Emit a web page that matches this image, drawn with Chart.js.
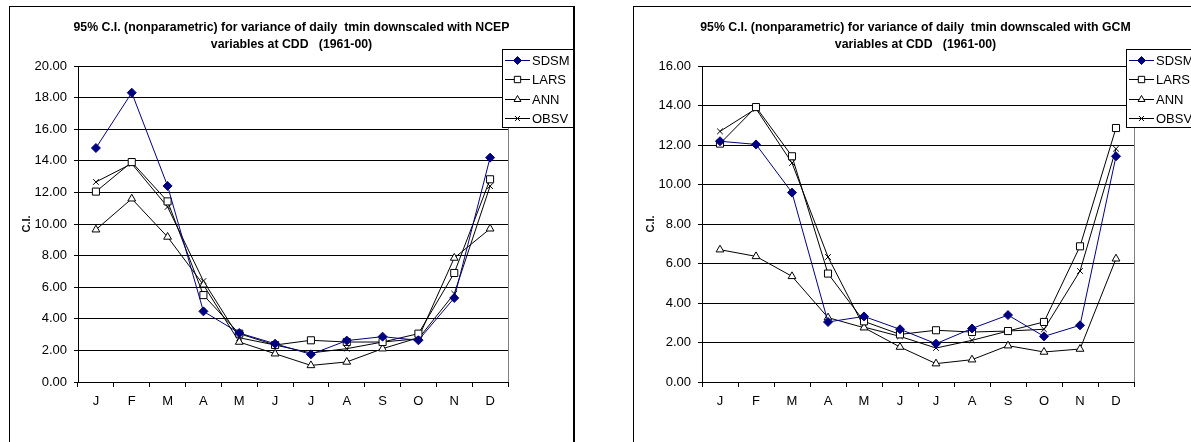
<!DOCTYPE html>
<html>
<head>
<meta charset="utf-8">
<script src="https://cdn.jsdelivr.net/npm/chart.js@4/dist/chart.umd.min.js"></script>
<style>
    html, body { margin: 0; padding: 0; background: #fff; overflow: hidden; }
    .chart-card {
        position: absolute;
        top: 6px;
        width: 563px;
        height: 440px;
        border: 1px solid #000;
        border-right-width: 2px;
        background: #fff;
    }
    #card-ncep { left: 9px; }
    #card-gcm { left: 633px; }
    canvas { display: block; }
</style>
</head>
<body>
<div class="chart-card" id="card-ncep"><canvas id="ncep-chart" width="563" height="436"></canvas></div>
<div class="chart-card" id="card-gcm"><canvas id="gcm-chart" width="563" height="436"></canvas></div>

<script>
// month labels on the category axis
const months = ['J', 'F', 'M', 'A', 'M', 'J', 'J', 'A', 'S', 'O', 'N', 'D'];

// NCEP-driven downscaling, 95% C.I. of daily tmin variance
const ncepSdsm = [14.81, 18.31, 12.41, 4.47, 3.10, 2.42, 1.75, 2.62, 2.87, 2.64, 5.32, 14.20];
const ncepLars = [12.05, 13.92, 11.43, 5.50, 3.06, 2.34, 2.64, 2.53, 2.53, 3.06, 6.90, 12.83];
const ncepAnn  = [9.64, 11.60, 9.18, 6.15, 2.53, 1.79, 1.05, 1.27, 2.11, 2.80, 7.85, 9.70];
const ncepObsv = [12.66, 13.82, 11.08, 6.39, 2.80, 2.34, 1.84, 2.11, 2.53, 2.74, 5.59, 12.40];

// GCM-driven downscaling
const gcmSdsm = [12.19, 12.03, 9.59, 3.04, 3.32, 2.67, 1.94, 2.71, 3.39, 2.31, 2.87, 11.43];
const gcmLars = [12.07, 13.92, 11.43, 5.49, 3.07, 2.41, 2.62, 2.53, 2.58, 3.04, 6.87, 12.86];
const gcmAnn  = [6.70, 6.36, 5.35, 3.26, 2.75, 1.77, 0.93, 1.13, 1.84, 1.52, 1.67, 6.24];
const gcmObsv = [12.69, 13.84, 11.09, 6.33, 2.78, 2.31, 1.72, 2.11, 2.58, 2.67, 5.62, 11.81];

const seriesNames = ['SDSM', 'LARS', 'ANN', 'OBSV'];

const FONT = 'Arial, "Liberation Sans", sans-serif';

// marker / line look per series, Excel style
const seriesStyle = [
    { color: '#000080', pointStyle: 'rectRot', fill: '#000080', radius: 4.5 },
    { color: '#000000', pointStyle: 'rect', fill: '#ffffff', radius: 5 },
    { color: '#000000', pointStyle: 'triangle', fill: '#ffffff', radius: 4.5 },
    { color: '#000000', pointStyle: 'crossRot', fill: '#ffffff', radius: 4 }
];

/**
 * Title, rotated axis title, plot frame and line+marker legend
 */
const framePlugin = {
    id: 'frame',
    beforeDatasetsDraw(chart, args, opts) {
        const { ctx, chartArea } = chart;
        ctx.save();
        ctx.strokeStyle = '#808080';
        ctx.lineWidth = 1;
        ctx.beginPath();
        ctx.moveTo(chartArea.right + 0.5, chartArea.top + 0.5);
        ctx.lineTo(chartArea.right + 0.5, chartArea.bottom);
        ctx.stroke();
        ctx.restore();
    },
    afterDraw(chart, args, opts) {
        const { ctx, chartArea } = chart;
        ctx.save();

        // two-line bold title
        ctx.fillStyle = '#000';
        ctx.font = 'bold 12.3px ' + FONT;
        ctx.textAlign = 'center';
        ctx.textBaseline = 'middle';
        const cx = chart.width / 2;
        ctx.fillText(opts.title[0], cx, 21);
        ctx.fillText(opts.title[1], cx, 37.5);

        // y axis title
        ctx.save();
        ctx.font = 'bold 11px ' + FONT;
        ctx.translate(17, (chartArea.top + chartArea.bottom) / 2);
        ctx.rotate(-Math.PI / 2);
        ctx.fillText('C.I.', 0, 0);
        ctx.restore();

        // legend box
        const lx = 492.5, ly = 42.5, lw = 71, lh = 78;
        ctx.fillStyle = '#fff';
        ctx.fillRect(lx, ly, lw, lh);
        ctx.strokeStyle = '#000';
        ctx.lineWidth = 1;
        ctx.strokeRect(lx, ly, lw, lh);

        ctx.font = '13px ' + FONT;
        ctx.textAlign = 'left';
        chart.data.datasets.forEach((ds, i) => {
            const y = Math.round(53 + i * 19.3) + 0.5;
            const st = seriesStyle[i];
            ctx.strokeStyle = st.color;
            ctx.beginPath();
            ctx.moveTo(495, y);
            ctx.lineTo(520, y);
            ctx.stroke();
            ctx.fillStyle = st.fill;
            ctx.strokeStyle = st.color;
            Chart.helpers.drawPoint(ctx, {
                pointStyle: st.pointStyle,
                radius: st.radius - 0.5,
                rotation: 0,
                borderWidth: 1
            }, 507.5, y);
            ctx.fillStyle = '#000';
            ctx.fillText(ds.label, 522, y + 0.5);
        });

        ctx.restore();
    }
};

/**
 * Build one confidence-interval line chart
 */
function buildChart(canvasId, title, yMax, values, rightPad) {
    const ctx = document.getElementById(canvasId).getContext('2d');
    const datasets = values.map((data, i) => {
        const st = seriesStyle[i];
        return {
            label: seriesNames[i],
            data: data,
            borderColor: st.color,
            borderWidth: 1,
            tension: 0,
            pointStyle: st.pointStyle,
            pointRadius: st.radius,
            pointBackgroundColor: st.fill,
            pointBorderColor: st.color,
            pointBorderWidth: 1
        };
    });

    return new Chart(ctx, {
        type: 'line',
        data: { labels: months, datasets: datasets },
        plugins: [framePlugin],
        options: {
            responsive: false,
            animation: false,
            devicePixelRatio: 1,
            layout: { padding: { top: 59, right: rightPad, left: 0, bottom: 0 } },
            plugins: {
                legend: { display: false },
                tooltip: { enabled: false },
                frame: { title: title }
            },
            scales: {
                x: {
                    offset: true,
                    grid: {
                        offset: true,
                        drawOnChartArea: false,
                        drawTicks: true,
                        tickLength: 5,
                        color: '#000'
                    },
                    border: { color: '#000', width: 1 },
                    ticks: {
                        color: '#000',
                        padding: 7,
                        maxRotation: 0,
                        autoSkip: false,
                        font: { family: FONT, size: 13 }
                    },
                    afterFit(scale) { scale.height = 61; }
                },
                y: {
                    min: 0,
                    max: yMax,
                    grid: {
                        color: '#000',
                        lineWidth: 1,
                        tickLength: 4
                    },
                    border: { color: '#000', width: 1 },
                    ticks: {
                        stepSize: 2,
                        color: '#000',
                        padding: 7,
                        font: { family: FONT, size: 13 },
                        callback: v => v.toFixed(2)
                    },
                    afterFit(scale) { scale.width = 68; }
                }
            }
        }
    });
}

buildChart('ncep-chart',
    ['95% C.I. (nonparametric) for variance of daily  tmin downscaled with NCEP', 'variables at CDD   (1961-00)'],
    20, [ncepSdsm, ncepLars, ncepAnn, ncepObsv], 65);

buildChart('gcm-chart',
    ['95% C.I. (nonparametric) for variance of daily  tmin downscaled with GCM', 'variables at CDD   (1961-00)'],
    16, [gcmSdsm, gcmLars, gcmAnn, gcmObsv], 63);
</script>
</body>
</html>
